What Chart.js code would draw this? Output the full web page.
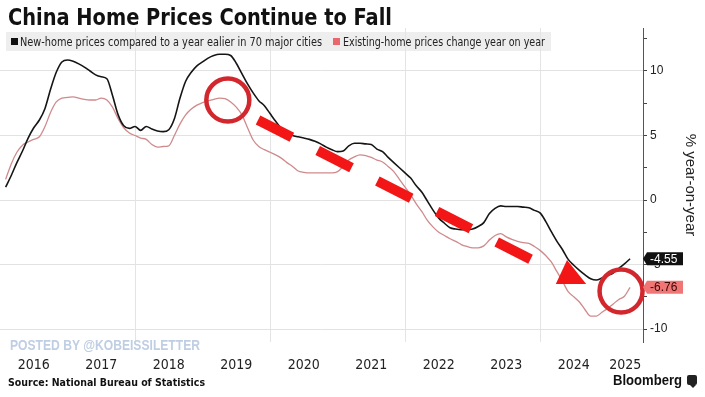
<!DOCTYPE html>
<html><head><meta charset="utf-8">
<script src="https://cdn.jsdelivr.net/npm/chart.js@4.4.1/dist/chart.umd.min.js"></script>
<style>
html,body{margin:0;padding:0;background:#fff;}
#wrap{position:relative;width:705px;height:397px;overflow:hidden;background:#fff;}
#c{position:absolute;left:0;top:0;z-index:2;}
.t{position:absolute;white-space:nowrap;transform-origin:0 50%;line-height:1;z-index:3;}
#band{position:absolute;left:6px;top:32px;width:545px;height:19px;background:#eeeeee;z-index:1;}
.sq{position:absolute;width:7px;height:7px;z-index:3;}
#logo{position:absolute;left:687px;top:375px;width:10px;height:10px;background:#222;border-radius:2px;z-index:3;}
#logo:after{content:"";position:absolute;left:3px;bottom:-3px;border-left:3px solid transparent;border-right:3px solid transparent;border-top:3px solid #222;}
</style></head>
<body><div id="wrap">
<div id="band"></div>
<canvas id="c" width="705" height="397"></canvas>
<div class="t" data-w="384" style="left:8px;top:3.5px;font:bold 23px 'Liberation Sans Narrow','DejaVu Sans Condensed',sans-serif;color:#111;">China Home Prices Continue to Fall</div>
<div class="sq" style="left:11px;top:38px;background:#111;"></div>
<div class="t" data-w="302" style="left:20px;top:35px;font:12px 'Liberation Sans Narrow','DejaVu Sans Condensed',sans-serif;color:#222;">New-home prices compared to a year ealier in 70 major cities</div>
<div class="sq" style="left:333px;top:38px;background:#e8666c;"></div>
<div class="t" data-w="202" style="left:343px;top:35px;font:12px 'Liberation Sans Narrow','DejaVu Sans Condensed',sans-serif;color:#222;">Existing-home prices change year on year</div>
<div class="t" data-w="190" style="left:10px;top:336px;font:bold 15px 'Liberation Sans',sans-serif;color:#bfcee3;">POSTED BY @KOBEISSILETTER</div>
<div class="t" data-w="197" style="left:8px;top:375.5px;font:bold 11px 'Liberation Sans Narrow','DejaVu Sans Condensed',sans-serif;color:#111;">Source: National Bureau of Statistics</div>
<div class="t" data-w="69" style="left:613px;top:372px;font:bold 14px 'Liberation Sans','DejaVu Sans',sans-serif;color:#111;">Bloomberg</div>
<div id="logo"></div>
</div>
<script>
// ---- data (monthly, Jan 2016 .. Apr 2025) ----
const newHome = [
  1.0,1.9,2.9,3.8,4.8,5.6,6.2,7.1,8.6,9.9,10.7,10.85,
  10.75,10.55,10.3,10.0,9.7,9.55,9.4,8.1,6.6,5.75,5.55,5.7,
  5.4,5.7,5.5,5.35,5.3,5.45,6.3,7.9,9.2,9.9,10.4,10.7,
  11.0,11.2,11.3,11.3,11.2,10.6,9.8,9.0,8.3,7.7,7.3,6.7,
  6.1,5.55,5.2,5.0,4.9,4.8,4.7,4.55,4.35,4.1,3.9,3.75,
  3.8,4.2,4.4,4.4,4.35,4.3,3.95,3.75,3.3,2.9,2.5,2.1,
  1.7,1.1,0.6,-0.1,-0.8,-1.4,-1.8,-2.15,-2.25,-2.3,-2.3,-2.25,
  -2.05,-1.75,-1.05,-0.65,-0.45,-0.5,-0.5,-0.5,-0.55,-0.6,-0.8,-1.0,
  -1.65,-2.45,-3.2,-3.85,-4.6,-5.05,-5.45,-5.8,-6.1,-6.2,-6.05,-5.85,
  -5.65,-5.3,-4.95,-4.55
];
const existing = [
  1.6,2.8,3.7,4.25,4.5,4.7,4.9,5.7,6.8,7.6,7.9,7.95,
  8.0,7.9,7.8,7.75,7.75,7.9,7.75,7.2,6.3,5.6,5.2,5.0,
  4.8,4.7,4.3,4.1,4.15,4.2,5.0,5.9,6.6,7.05,7.35,7.55,
  7.7,7.8,7.9,7.85,7.6,7.2,6.6,5.6,4.65,4.15,3.9,3.7,
  3.5,3.25,2.9,2.6,2.25,2.15,2.1,2.1,2.1,2.1,2.1,2.2,
  2.6,3.1,3.35,3.5,3.45,3.3,3.1,2.95,2.6,2.2,1.6,1.0,
  0.4,-0.3,-0.9,-1.6,-2.1,-2.5,-2.75,-3.0,-3.2,-3.45,-3.6,-3.7,
  -3.7,-3.55,-3.1,-2.75,-2.6,-2.85,-3.05,-3.2,-3.3,-3.35,-3.6,-3.9,
  -4.3,-4.8,-5.55,-6.3,-7.1,-7.5,-7.9,-8.5,-9.0,-9.0,-8.7,-8.4,
  -8.05,-7.7,-7.45,-6.76
];
const yearLabels = ['2016','2017','2018','2019','2020','2021','2022','2023','2024','2025'];
const yTickValues = [-10,-7.5,-5,-2.5,0,2.5,5,7.5,10,12.5];
const gridMonths = [24,48,72,96];
// annotation anchors (months since Jan 2016, % value)
const circleAnchors = [[40.5,7.75],[110.4,-7.05]];
const arrowLine = [[45.87,6.2],[94.6,-4.65]];
const arrowHead = [[100.8,-4.65],[98.8,-6.5],[104.2,-6.5]];

// fit texts to widths
document.querySelectorAll('.t[data-w]').forEach(el=>{
  const w = el.getBoundingClientRect().width;
  el.style.transform = 'scaleX(' + (parseFloat(el.dataset.w)/w) + ')';
});

const X_MAX = 114.3;
const toPts = arr => arr.map((v,i)=>({x:i+1,y:v}));
const yearPos = yearLabels.map((l,k)=> k < 9 ? k*12+6 : (108 + X_MAX)/2);
const xTicks = [...gridMonths, ...yearPos].sort((a,b)=>a-b);

const annot = {
  id:'annot',
  afterDatasetsDraw(chart){
    const {ctx, scales:{x,y}} = chart;
    const P = p => [x.getPixelForValue(p[0]), y.getPixelForValue(p[1])];
    ctx.save();
    const a = P(arrowLine[0]), b = P(arrowLine[1]);
    ctx.strokeStyle = '#f21616'; ctx.lineWidth = 10; ctx.lineCap = 'butt';
    ctx.setLineDash([38,29]);
    ctx.beginPath(); ctx.moveTo(a[0],a[1]); ctx.lineTo(b[0],b[1]); ctx.stroke();
    ctx.setLineDash([]);
    ctx.fillStyle = '#f21616';
    ctx.beginPath();
    arrowHead.forEach((p,i)=>{const q=P(p); i?ctx.lineTo(q[0],q[1]):ctx.moveTo(q[0],q[1]);});
    ctx.closePath(); ctx.fill();
    ctx.strokeStyle = '#d3272e'; ctx.lineWidth = 4.5;
    circleAnchors.forEach(c=>{const q=P(c); ctx.beginPath(); ctx.arc(q[0],q[1],21.5,0,Math.PI*2); ctx.stroke();});
    ctx.restore();
  },
  afterDraw(chart){
    const {ctx, scales:{y}} = chart;
    const items = [
      {v:newHome[newHome.length-1], bg:'#111', fg:'#fff'},
      {v:existing[existing.length-1], bg:'#f07676', fg:'#3a0606'}
    ];
    ctx.save();
    ctx.font = "12px 'Liberation Sans', sans-serif";
    ctx.textBaseline = 'middle';
    items.forEach(it=>{
      const py = y.getPixelForValue(it.v);
      const x0 = chart.chartArea.right + 4, w = 36, h = 13;
      ctx.fillStyle = it.bg;
      ctx.beginPath();
      ctx.moveTo(chart.chartArea.right, py);
      ctx.lineTo(x0, py - h/2); ctx.lineTo(x0 + w, py - h/2);
      ctx.lineTo(x0 + w, py + h/2); ctx.lineTo(x0, py + h/2); ctx.closePath();
      ctx.fill();
      ctx.fillStyle = it.fg;
      ctx.fillText(it.v.toFixed(2), x0 + 3, py + 0.5);
    });
    ctx.restore();
  }
};

new Chart(document.getElementById('c'), {
  type:'line',
  data:{datasets:[
    {label:'New-home prices compared to a year ealier in 70 major cities', data:toPts(newHome),
     borderColor:'#151515', borderWidth:1.6, pointRadius:0, tension:0.35, cubicInterpolationMode:'monotone'},
    {label:'Existing-home prices change year on year', data:toPts(existing),
     borderColor:'#cf8a8c', borderWidth:1.3, pointRadius:0, tension:0.35, cubicInterpolationMode:'monotone'}
  ]},
  options:{
    responsive:false, animation:false, devicePixelRatio:1,
    layout:{padding:{top:28,left:0,right:0,bottom:0}},
    plugins:{legend:{display:false}, tooltip:{enabled:false}},
    scales:{
      x:{type:'linear', min:0, max:X_MAX, position:'bottom',
        afterBuildTicks:s=>{s.ticks = xTicks.map(v=>({value:v}));},
        afterFit:s=>{s.height = 55;},
        border:{display:false},
        grid:{drawTicks:false, lineWidth:1,
          color:c=> (c.tick && gridMonths.includes(c.tick.value)) ? '#e4e4e4' : 'rgba(0,0,0,0)'},
        ticks:{autoSkip:false, maxRotation:0, padding:15, color:'#222',
          font:{family:"'Liberation Sans Narrow','DejaVu Sans Condensed',sans-serif", size:14},
          callback:v=>{const k = yearPos.indexOf(v); return k>=0 ? yearLabels[k] : '';}}
      },
      y:{type:'linear', position:'right', min:-11.0, max:13.33,
        afterBuildTicks:s=>{s.ticks = yTickValues.map(v=>({value:v}));},
        afterFit:s=>{s.width = 62;},
        border:{display:true, color:'#555', width:1},
        grid:{drawTicks:true, tickLength:4, tickColor:'#444',
          color:c=> (c.tick && c.tick.value % 5 === 0) ? '#e2e2e2' : 'rgba(0,0,0,0)'},
        ticks:{padding:3, color:'#222',
          font:{family:"'Liberation Sans',sans-serif", size:12},
          callback:v=> v % 5 === 0 ? String(v) : ''},
        title:{display:true, text:'% year-on-year', color:'#222', padding:{top:6,bottom:0},
          font:{family:"'Liberation Sans',sans-serif", size:15}}
      }
    }
  },
  plugins:[annot]
});
</script>
</body></html>
